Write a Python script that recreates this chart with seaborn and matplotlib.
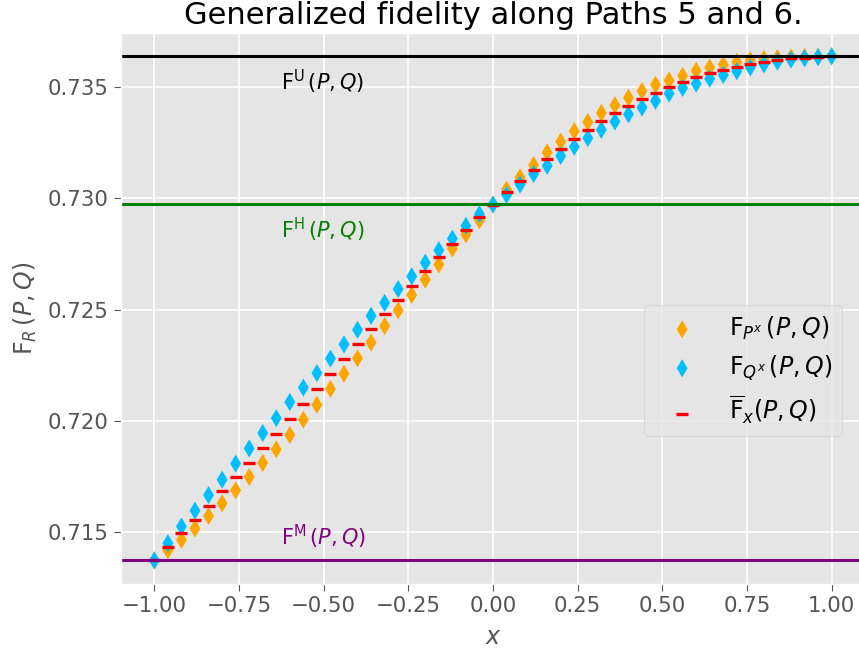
import numpy as np
import pandas as pd
import matplotlib
matplotlib.use('Agg')
import matplotlib.pyplot as plt
import seaborn as sns

# ---- data ----
x_vals = [-1.00, -0.96, -0.92, -0.88, -0.84, -0.80, -0.76, -0.72, -0.68, -0.64,
          -0.60, -0.56, -0.52, -0.48, -0.44, -0.40, -0.36, -0.32, -0.28, -0.24,
          -0.20, -0.16, -0.12, -0.08, -0.04, 0.00, 0.04, 0.08, 0.12, 0.16,
          0.20, 0.24, 0.28, 0.32, 0.36, 0.40, 0.44, 0.48, 0.52, 0.56,
          0.60, 0.64, 0.68, 0.72, 0.76, 0.80, 0.84, 0.88, 0.92, 0.96, 1.00]

f_px = [0.71375, 0.71420, 0.71467, 0.71518, 0.71574, 0.71631, 0.71689, 0.71749, 0.71812, 0.71873,
        0.71937, 0.72006, 0.72073, 0.72144, 0.72212, 0.72281, 0.72352, 0.72426, 0.72496, 0.72565,
        0.72634, 0.72702, 0.72774, 0.72837, 0.72900, 0.72971, 0.73038, 0.73093, 0.73148, 0.73205,
        0.73253, 0.73300, 0.73341, 0.73382, 0.73417, 0.73450, 0.73480, 0.73508, 0.73527, 0.73548,
        0.73571, 0.73585, 0.73598, 0.73611, 0.73618, 0.73624, 0.73628, 0.73631, 0.73633, 0.73634, 0.73636]

f_qx = [0.71375, 0.71452, 0.71527, 0.71598, 0.71668, 0.71737, 0.71809, 0.71877, 0.71946, 0.72013,
        0.72085, 0.72150, 0.72215, 0.72280, 0.72344, 0.72409, 0.72472, 0.72530, 0.72592, 0.72649,
        0.72710, 0.72766, 0.72818, 0.72875, 0.72928, 0.72971, 0.73014, 0.73061, 0.73108, 0.73145,
        0.73189, 0.73230, 0.73269, 0.73306, 0.73343, 0.73376, 0.73406, 0.73436, 0.73469, 0.73494,
        0.73513, 0.73535, 0.73552, 0.73569, 0.73586, 0.73600, 0.73612, 0.73621, 0.73627, 0.73632, 0.73636]

f_bar = [0.71375, 0.71436, 0.71497, 0.71558, 0.71621, 0.71684, 0.71749, 0.71813, 0.71879, 0.71943,
         0.72011, 0.72078, 0.72144, 0.72212, 0.72278, 0.72345, 0.72412, 0.72478, 0.72544, 0.72607,
         0.72672, 0.72734, 0.72796, 0.72856, 0.72914, 0.72971, 0.73026, 0.73077, 0.73128, 0.73175,
         0.73221, 0.73265, 0.73305, 0.73344, 0.73380, 0.73413, 0.73443, 0.73472, 0.73498, 0.73521,
         0.73542, 0.73560, 0.73575, 0.73590, 0.73602, 0.73612, 0.73620, 0.73626, 0.73630, 0.73633, 0.73636]

F_U = 0.73636
F_H = 0.72973
F_M = 0.71375

x_ticks = [-1.00, -0.75, -0.50, -0.25, 0.00, 0.25, 0.50, 0.75, 1.00]
title = "Generalized fidelity along Paths 5 and 6."

# ---- styling ----
plt.style.use('ggplot')
plt.rcParams['font.family'] = ['DejaVu Sans']
plt.rcParams['mathtext.fontset'] = 'dejavusans'

fig = plt.figure(figsize=(8.59, 6.57), dpi=100)
ax = fig.add_axes([120.5 / 859, 73 / 657, 745 / 859, 550.7 / 657])

df = pd.DataFrame({'x': x_vals, 'P': f_px, 'Q': f_qx, 'M': f_bar})

sns.scatterplot(data=df, x='x', y='P', ax=ax, marker='d', s=85, color='orange',
                edgecolor='none', linewidth=0, label=r'$\mathrm{F}_{P^x}\,(P,Q)$', legend=False)
sns.scatterplot(data=df, x='x', y='Q', ax=ax, marker='d', s=85, color='deepskyblue',
                edgecolor='none', linewidth=0, label=r'$\mathrm{F}_{Q^x}\,(P,Q)$', legend=False)
sns.scatterplot(data=df, x='x', y='M', ax=ax, marker='_', s=80, color='red',
                linewidth=2.4, label=r'$\overline{\mathrm{F}}_x(P,Q)$', legend=False)

ax.axhline(F_U, color='black', lw=2.2)
ax.axhline(F_H, color='green', lw=2.2)
ax.axhline(F_M, color='purple', lw=2.2)

ax.text(-0.625, 0.73520, r'$\mathrm{F}^{\mathrm{U}}\,(P,Q)$', color='black', fontsize=15,
        ha='left', va='center')
ax.text(-0.625, 0.72857, r'$\mathrm{F}^{\mathrm{H}}\,(P,Q)$', color='green', fontsize=15,
        ha='left', va='center')
ax.text(-0.625, 0.71481, r'$\mathrm{F}^{\mathrm{M}}\,(P,Q)$', color='purple', fontsize=15,
        ha='left', va='center')

ax.set_xlim(-1.1, 1.1)
ax.set_ylim(0.71269, 0.73739)
ax.set_xticks(x_ticks)
ax.set_xticklabels([f"{v:.2f}".replace('-', '\u2212') for v in x_ticks])
ax.tick_params(labelsize=15.3, colors='#555555', length=5)
ax.grid(True, color='white', lw=1.2)

ax.set_title(title, fontsize=22, pad=6.6)
ax.set_xlabel(r'$x$', fontsize=17, color='#555555', labelpad=6.5)
ax.set_ylabel(r'$\mathrm{F}_R\,(P,Q)$', fontsize=17, color='#555555', labelpad=6)

ax.legend(loc='center right', bbox_to_anchor=(0.9685, 0.3877), borderaxespad=0,
          fontsize=17, facecolor='#E5E5E5', edgecolor='#CCCCCC', handlelength=2.4)

fig.savefig('out.png', dpi=100)
